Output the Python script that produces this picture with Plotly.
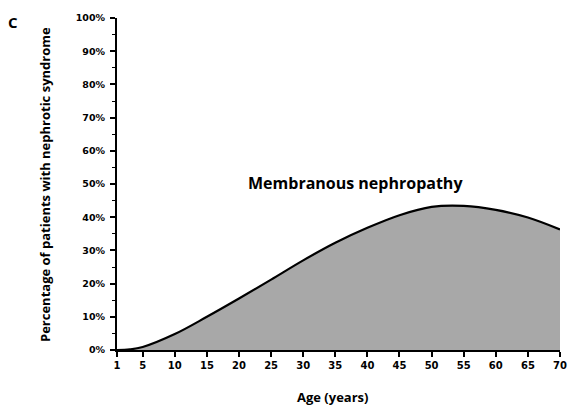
import plotly.graph_objects as go

age = [1, 3, 5, 10, 15, 20, 25, 30, 35, 40, 45, 50, 55, 60, 65, 70]
pct = [0.0, 0.002, 0.009, 0.048, 0.100, 0.155, 0.212, 0.270, 0.323, 0.368, 0.406, 0.431, 0.434, 0.422, 0.399, 0.363]

x_ticks = [1, 5, 10, 15, 20, 25, 30, 35, 40, 45, 50, 55, 60, 65, 70]
y_ticks = [0, 0.1, 0.2, 0.3, 0.4, 0.5, 0.6, 0.7, 0.8, 0.9, 1.0]
y_labels = [f"{int(round(v*100))}%" for v in y_ticks]

TICKFONT = "DejaVu Sans"
TITLEFONT = "Open Sans"

L, R, T, B = 117, 9, 18, 56
W, H = 569, 406

fig = go.Figure()
fig.add_trace(go.Scatter(
    x=age, y=pct, mode="lines",
    line=dict(color="black", width=2.2, shape="spline", smoothing=1.0),
    fill="tozeroy", fillcolor="#a8a8a8",
    hoverinfo="skip", showlegend=False,
))

pw = W - L - R
ph = H - T - B
def px(xp):
    return (xp - L) / pw
def py(yp):
    return (H - B - yp) / ph

fig.update_layout(
    width=W, height=H,
    margin=dict(l=L, r=R, t=T, b=B, autoexpand=False),
    paper_bgcolor="white", plot_bgcolor="white",
    font=dict(family=TITLEFONT, color="black"),
    xaxis=dict(
        range=[1, 70], tickvals=x_ticks, ticktext=[str(v) for v in x_ticks],
        showgrid=False, zeroline=False,
        showline=True, linecolor="black", linewidth=2,
        ticks="outside", ticklen=5, tickwidth=1.5, tickcolor="black",
        tickfont=dict(size=10, family=TICKFONT, weight="bold"),
    ),
    yaxis=dict(
        range=[0, 1], tickvals=y_ticks, ticktext=y_labels,
        showgrid=False, zeroline=False,
        showline=True, linecolor="black", linewidth=2,
        ticks="outside", ticklen=5, tickwidth=1.5, tickcolor="black",
        ticklabelstandoff=3,
        minor=dict(dtick=0.05, ticks="outside", ticklen=3, tickwidth=1, tickcolor="black", showgrid=False),
        tickfont=dict(size=9.5, family=TICKFONT, weight="bold"),
    ),
    annotations=[
        dict(text="Membranous nephropathy", x=px(355), y=py(183), xref="paper", yref="paper",
             showarrow=False, font=dict(size=16, family=TITLEFONT, weight="bold"),
             xanchor="center", yanchor="middle"),
        dict(text="C", x=px(13), y=py(22), xref="paper", yref="paper", showarrow=False,
             font=dict(size=15, family=TITLEFONT, weight="bold"), xanchor="center", yanchor="middle"),
        dict(text="Age (years)", x=px(332), y=py(397), xref="paper", yref="paper", showarrow=False,
             font=dict(size=13, family=TITLEFONT, weight="bold"), xanchor="center", yanchor="middle"),
        dict(text="Percentage of patients with nephrotic syndrome", x=px(45), y=py(185),
             xref="paper", yref="paper", showarrow=False, textangle=-90,
             font=dict(size=13, family=TITLEFONT, weight="bold"), xanchor="center", yanchor="middle"),
    ],
)

fig.write_html("out.html", config={"displayModeBar": False},
               post_script="document.body.style.margin='0';document.body.style.overflow='hidden';")
